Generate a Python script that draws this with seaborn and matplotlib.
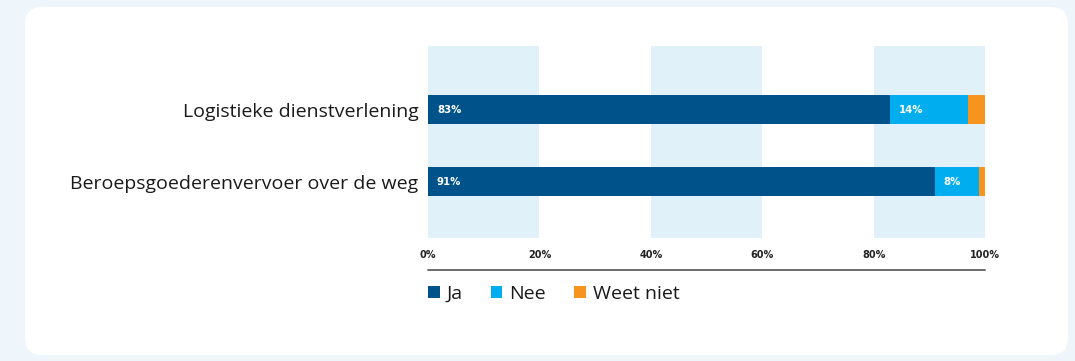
import matplotlib
matplotlib.use("Agg")
import matplotlib.pyplot as plt
from matplotlib.patches import FancyBboxPatch, Patch
from matplotlib.lines import Line2D
import pandas as pd
import seaborn as sns

# Survey answers per sector (percent)
sectors = ["Logistieke dienstverlening", "Beroepsgoederenvervoer over de weg"]
ja = [83, 91]
nee = [14, 8]
weet_niet = [3, 1]
answers = ["Ja", "Nee", "Weet niet"]
ticks = [0, 20, 40, 60, 80, 100]
tick_labels = ["0%", "20%", "40%", "60%", "80%", "100%"]

colors = {"Ja": "#00538a", "Nee": "#00aeef", "Weet niet": "#f7941d"}
band_color = "#e1f1f9"
bold_font = ["DejaVu Sans"]

sns.set_theme(style="white")
plt.rcParams["font.family"] = ["Open Sans", "DejaVu Sans"]

df = pd.DataFrame({"sector": sectors, "Ja": ja, "Nee": nee, "Weet niet": weet_niet})
df["cum_ja"] = df["Ja"]
df["cum_nee"] = df["Ja"] + df["Nee"]
df["cum_all"] = df["cum_nee"] + df["Weet niet"]

fig = plt.figure(figsize=(10.75, 3.61), dpi=100)
fig.patch.set_facecolor("#eef6fc")

# white card behind the chart
card = FancyBboxPatch((25 / 1075, 6 / 361), 1043 / 1075, 348 / 361,
                      boxstyle="round,pad=0,rounding_size=0.016",
                      transform=fig.transFigure, facecolor="white",
                      edgecolor="none", mutation_aspect=1075 / 361, zorder=-5)
fig.patches.append(card)

ax = fig.add_axes([428 / 1075, 123 / 361, 557 / 1075, 192 / 361])
ax.set_zorder(2)
ax.set_facecolor("none")

# alternating background bands
for lo in ticks[:-1:2]:
    ax.axvspan(lo, lo + 20, color=band_color, lw=0, zorder=0)

# stacked bars drawn back to front from cumulative totals
for col, ans in [("cum_all", "Weet niet"), ("cum_nee", "Nee"), ("cum_ja", "Ja")]:
    sns.barplot(data=df, x=col, y="sector", orient="h", color=colors[ans],
                width=0.4, saturation=1, ax=ax, zorder=2, linewidth=0)

# value labels at the start of each segment
for i, row in df.iterrows():
    ax.text(1.6, i, f"{row['Ja']}%", color="white", fontsize=7.3,
            fontweight="bold", family=bold_font, va="center", ha="left", zorder=3)
    ax.text(row["cum_ja"] + 1.6, i, f"{row['Nee']}%", color="white",
            fontsize=7.3, fontweight="bold", family=bold_font,
            va="center", ha="left", zorder=3)

ax.set_xlim(0, 100)
ax.set_ylim(1.78, -0.88)
ax.set_xticks(ticks)
ax.set_xticklabels(tick_labels, fontsize=7, fontweight="bold",
                   family=bold_font, color="#222222")
ax.tick_params(axis="x", length=0, pad=9)
ax.tick_params(axis="y", length=0, pad=7, labelsize=14, labelcolor="#1a1a1a")
ax.set_xlabel("")
ax.set_ylabel("")
for s in ax.spines.values():
    s.set_visible(False)

# baseline under the tick labels
ax.add_line(Line2D([0, 1], [-0.167, -0.167], transform=ax.transAxes,
                   color="#6b6b6b", lw=1.4, clip_on=False))

handles = [Patch(facecolor=colors[a], edgecolor="none", label=a) for a in answers]
leg = ax.legend(handles=handles, loc="upper left", bbox_to_anchor=(0.0, -0.245),
                ncol=3, frameon=False, fontsize=14, handlelength=0.6,
                handleheight=0.6, handletextpad=0.35, columnspacing=1.45,
                borderaxespad=0, borderpad=0)
for t in leg.get_texts():
    t.set_color("#1a1a1a")

fig.savefig("out.png", dpi=100, facecolor=fig.get_facecolor())
